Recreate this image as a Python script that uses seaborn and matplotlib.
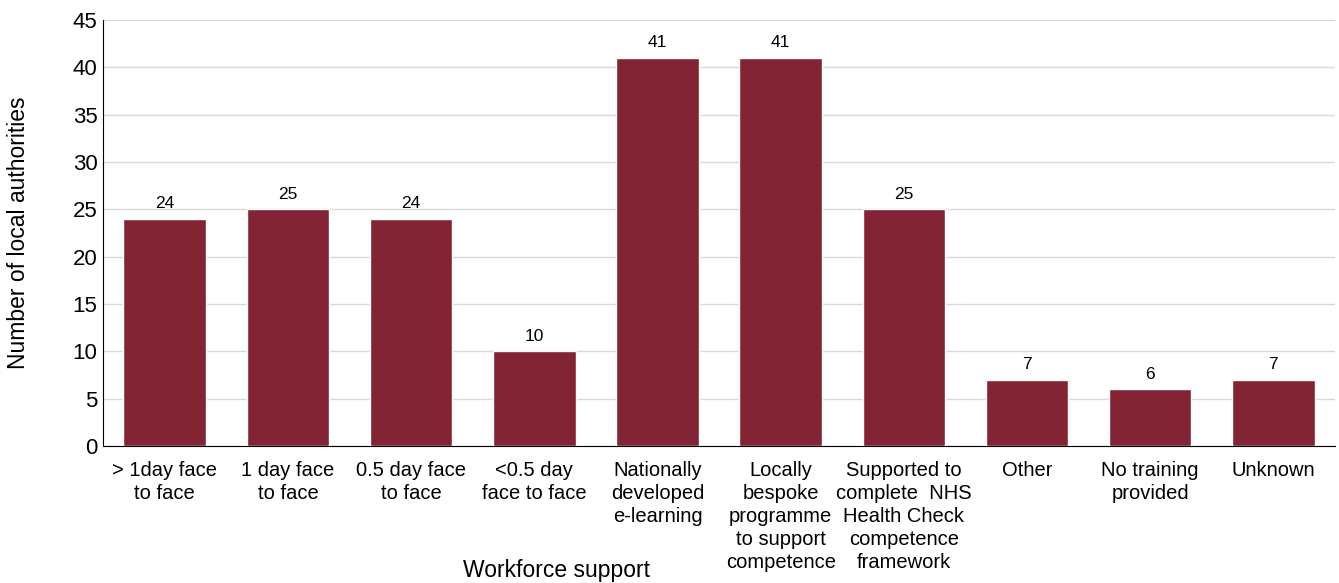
import matplotlib
matplotlib.use('Agg')
import matplotlib.pyplot as plt
import seaborn as sns
import pandas as pd

categories = [
    '> 1day face\nto face',
    '1 day face\nto face',
    '0.5 day face\nto face',
    '<0.5 day\nface to face',
    'Nationally\ndeveloped\ne-learning',
    'Locally\nbespoke\nprogramme\nto support\ncompetence',
    'Supported to\ncomplete  NHS\nHealth Check\ncompetence\nframework',
    'Other',
    'No training\nprovided',
    'Unknown',
]
counts = [24, 25, 24, 10, 41, 41, 25, 7, 6, 7]

df = pd.DataFrame({'support': categories, 'count': counts})

sns.set_style('white')
plt.rcParams['font.family'] = ['Liberation Sans', 'DejaVu Sans']

fig = plt.figure(figsize=(13.39, 5.83), dpi=100)
ax = fig.add_axes([0.077, 0.235, 0.92, 0.731])

sns.barplot(x='support', y='count', data=df, color='#822433', saturation=1,
            width=0.67, ax=ax, zorder=3)

for i, v in enumerate(counts):
    ax.text(i, v + 0.8, str(v), ha='center', va='bottom', fontsize=12.5,
            color='black')

ax.set_ylim(0, 45)
ax.set_yticks(range(0, 46, 5))
ax.set_xlim(-0.5, len(categories) - 0.5)
ax.yaxis.grid(True, color='#d9d9d9', linewidth=1, zorder=0)
ax.set_axisbelow(True)
for side in ['top', 'right']:
    ax.spines[side].set_visible(False)
ax.spines['left'].set_color('black')
ax.spines['bottom'].set_color('black')
ax.tick_params(axis='y', labelsize=16, length=0, pad=4, labelcolor='black')
ax.tick_params(axis='x', labelsize=14.5, length=0, pad=11, labelcolor='black')
ax.set_xlabel('Workforce support', fontsize=16.5, color='black')
ax.set_ylabel('Number of local authorities', fontsize=16.5, color='black')
ax.xaxis.set_label_coords(0.368, -0.291)
ax.xaxis.label.set_verticalalignment('center')
ax.yaxis.set_label_coords(-0.069, 0.5)
ax.yaxis.label.set_verticalalignment('center')
for lbl in ax.get_xticklabels():
    lbl.set_linespacing(1.27)
    lbl.set_verticalalignment('top')

fig.savefig('out.png', dpi=100)
